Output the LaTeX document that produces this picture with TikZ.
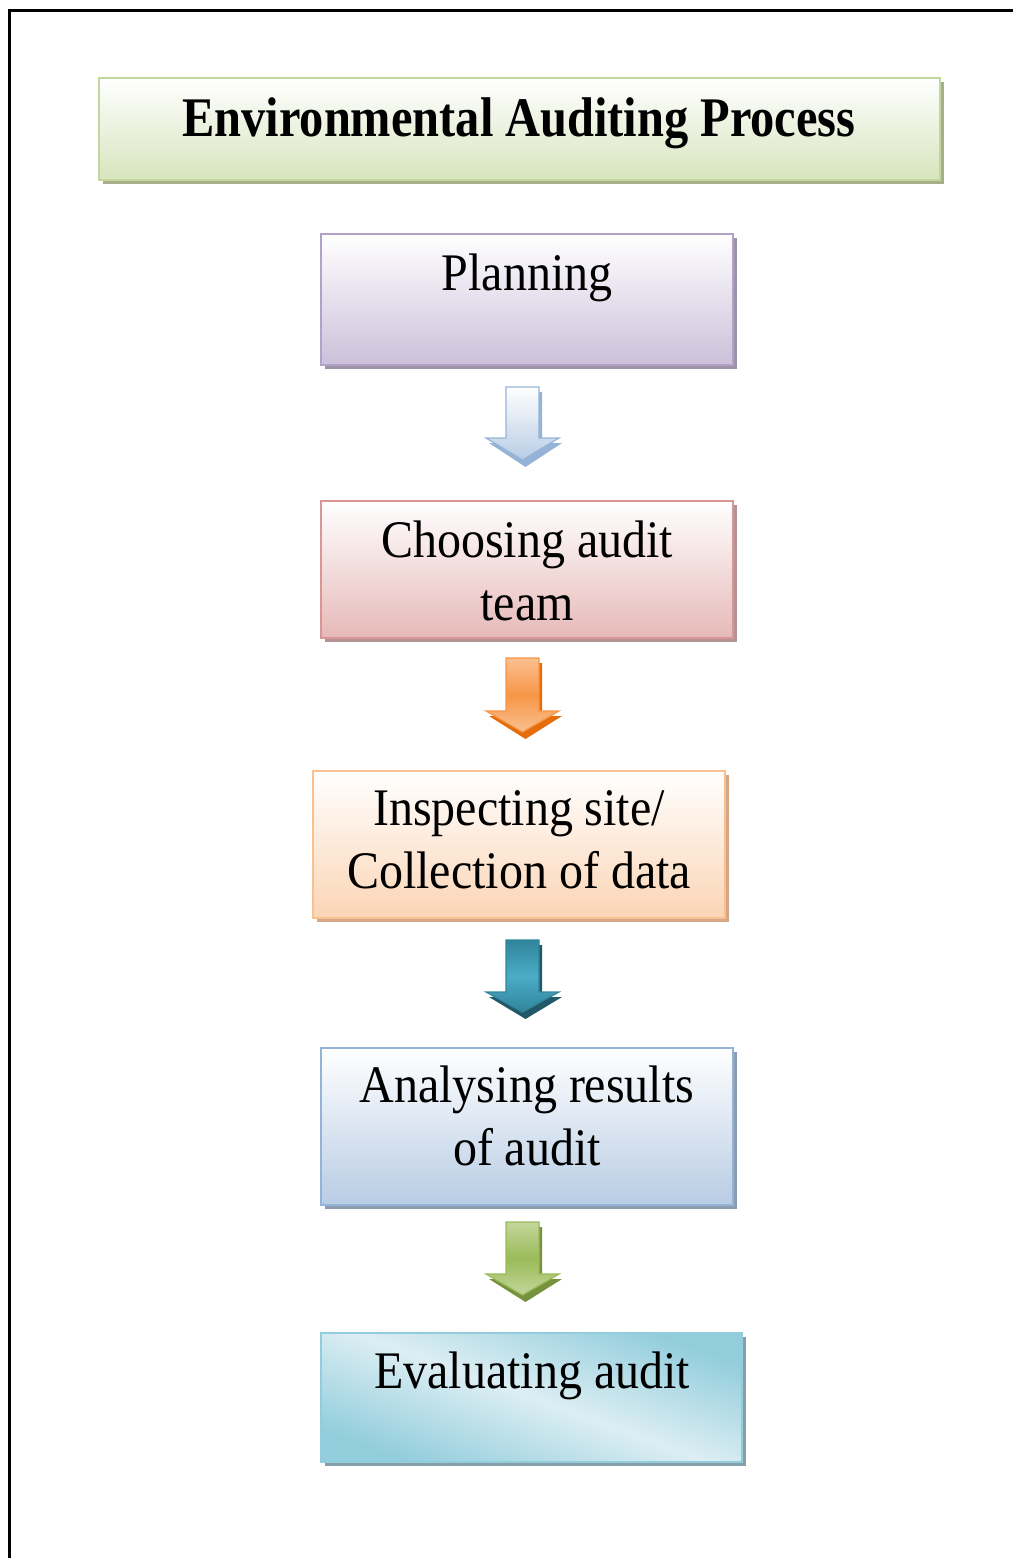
\documentclass[tikz,border=0pt]{standalone}
\usepackage{fontspec}
\setmainfont{Liberation Serif}
\usetikzlibrary{calc,shadows}

\definecolor{titleline}{HTML}{C3D69B}
\definecolor{titlefill}{HTML}{D7E4BD}
\definecolor{titleshade}{HTML}{A6AE8C}
\definecolor{planline}{HTML}{B3A2C7}
\definecolor{planfill}{HTML}{CCC0DA}
\definecolor{planshade}{HTML}{9E93AA}
\definecolor{teamline}{HTML}{D99694}
\definecolor{teamfill}{HTML}{E6B9B8}
\definecolor{teamshade}{HTML}{B39393}
\definecolor{siteline}{HTML}{FAC090}
\definecolor{sitefill}{HTML}{FBD5B5}
\definecolor{siteshade}{HTML}{D4A886}
\definecolor{resultline}{HTML}{95B3D7}
\definecolor{resultfill}{HTML}{B8CCE4}
\definecolor{resultshade}{HTML}{8C9DB3}
\definecolor{evalline}{HTML}{93CDDD}
\definecolor{evallight}{HTML}{DCEEF3}
\definecolor{evaldark}{HTML}{92CDDC}
\definecolor{evalshade}{HTML}{86A0A8}
\definecolor{orangemid}{HTML}{F79646}
\definecolor{orangeback}{HTML}{E46C0A}
\definecolor{tealtop}{HTML}{31859C}
\definecolor{tealmid}{HTML}{4BACC6}
\definecolor{tealback}{HTML}{215968}
\definecolor{greenmid}{HTML}{9BBB59}
\definecolor{greenback}{HTML}{76923C}

\def\blockarrow[#1](#2:#3:#4){\path[#1] (506,#2) -- (539,#2) -- (539,#3) -- (559,#3) -- (522.5,#4) -- (486,#3) -- (506,#3) -- cycle;}

\begin{document}
\begin{tikzpicture}[x=0.5pt,y=-0.5pt,
		stagebox/.style={draw=#1line, line width=1.2pt, top color=white, bottom color=#1fill,
			general shadow={fill=#1shade, shadow xshift=2pt, shadow yshift=-2pt}},
		stagetext/.style={font=\fontsize{24}{28.6}\selectfont, align=center, inner sep=0pt,
			anchor=base, yscale=1.1, transform shape}]
			%%%%% START %%%%%
			
			\useasboundingbox (0,0) rectangle (1013,1558);
			\draw[line width=1.5pt] (9,1558) -- (9,10) -- (1013,10);
			
			\node[stagebox=title, minimum width=420.5pt, minimum height=51pt] (title) at (519.5,129) {};
			\node[stagetext, font=\fontsize{24.2}{26}\selectfont\bfseries, yscale=1.05] (titletext) at (519,136) {Environmental Auditing Process};
			
			\node[stagebox=plan, minimum width=206pt, minimum height=65.5pt] (plan) at (527,299.5) {};
			\node[stagetext] (plantext) at (527,290) {Planning};
			
			\node[stagebox=team, minimum width=206pt, minimum height=68.5pt] (team) at (527,569.5) {};
			\node[stagetext] (teamtext) at (527,620) {Choosing audit\\team};
			
			\node[stagebox=site, minimum width=206pt, minimum height=73.5pt] (site) at (519,844.5) {};
			\node[stagetext] (sitetext) at (519,888) {Inspecting site/\\Collection of data};
			
			\node[stagebox=result, minimum width=206pt, minimum height=78.5pt] (result) at (527,1126.5) {};
			\node[stagetext] (resulttext) at (527,1165) {Analysing results\\of audit};
			
			\node[draw=evalline, line width=1.2pt, top color=evaldark, bottom color=evaldark, middle color=evallight,
				shading angle=-20, general shadow={fill=evalshade, shadow xshift=2pt, shadow yshift=-2pt},
				minimum width=210.5pt, minimum height=64.5pt] (eval) at (531.5,1397.5) {};
			\node[stagetext] (evaltext) at (532,1388) {Evaluating audit};
			
			% arrows between the stages
			\blockarrow[fill=resultline, shift={(3,4)}](388:439:463)
			\blockarrow[draw=resultline, line width=0.6pt, top color=white, bottom color=resultfill](387:438:460)
			
			\blockarrow[fill=orangeback, shift={(3,4)}](659:712:735)
			\blockarrow[draw=orangemid, line width=0.6pt, top color=siteline, bottom color=siteline, middle color=orangemid](658:711:732)
			
			\blockarrow[fill=tealback, shift={(3,4)}](941:993:1015)
			\blockarrow[draw=tealtop, line width=0.6pt, top color=tealtop, bottom color=tealtop, middle color=tealmid](940:992:1012)
			
			\blockarrow[fill=greenback, shift={(3,4)}](1223:1275:1298)
			\blockarrow[draw=greenmid, line width=0.6pt, top color=titleline, bottom color=titleline, middle color=greenmid](1222:1274:1295)
			
			%%%%% END %%%%%
\end{tikzpicture}
\end{document}
